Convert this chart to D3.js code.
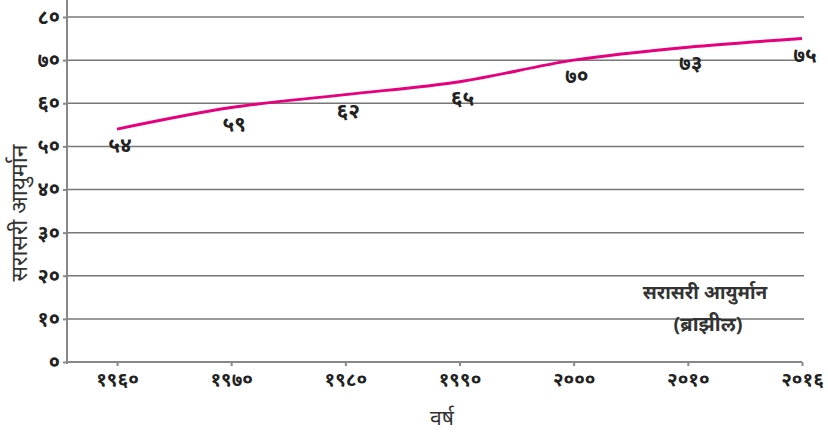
<!DOCTYPE html>
<html lang="mr">
<head>
<meta charset="utf-8">
<script src="https://cdn.jsdelivr.net/npm/d3@7"></script>
<style>
  body { margin: 0; background: #fff; }
  text { font-family: "Noto Sans", "DejaVu Sans", sans-serif; }
  .grid line { stroke: #777; stroke-width: 1.5px; }
  .axis path, .axis line { stroke: #888; stroke-width: 2px; }
  .axis text { font-size: 19px; font-weight: bold; fill: #222; }
  .line { fill: none; stroke: #e6007e; stroke-width: 3px; }
  .vlabel { font-size: 21px; font-weight: bold; fill: #222; text-anchor: middle; }
</style>
</head>
<body>
<svg id="chart" width="828" height="441"></svg>
<script>
// data
var years = ["1960", "1970", "1980", "1990", "2000", "2010", "2016"];
var lifeExp = [54, 59, 62, 65, 70, 73, 75];
var yTicks = [0, 10, 20, 30, 40, 50, 60, 70, 80];

var deva = "०१२३४५६७८९";
function toDeva(v) {
  return String(v).replace(/[0-9]/g, function(c) { return deva[+c]; });
}

var svg = d3.select("#chart");

var x = d3.scalePoint().domain(years).range([117, 802]);
var y = d3.scaleLinear().domain([0, 80]).range([362, 17]);

// gridlines
svg.append("g")
    .attr("class", "grid")
  .selectAll("line")
  .data(yTicks.slice(1))
  .enter().append("line")
    .attr("x1", 67)
    .attr("x2", 804)
    .attr("y1", function(d) { return y(d); })
    .attr("y2", function(d) { return y(d); });

// y axis
var yAxis = svg.append("g")
    .attr("class", "axis")
    .attr("transform", "translate(67,0)")
    .call(d3.axisLeft(y).tickValues(yTicks).tickSize(4).tickSizeOuter(0).tickFormat(toDeva));
yAxis.select(".domain").attr("d", "M0,0V" + (y(0) + 2));
yAxis.selectAll("text").attr("x", -7).style("font-size", "20px");

// x axis
var xAxis = svg.append("g")
    .attr("class", "axis")
    .attr("transform", "translate(0," + y(0) + ")")
    .call(d3.axisBottom(x).tickSize(4).tickSizeOuter(0).tickFormat(toDeva));
xAxis.select(".domain").attr("d", "M67,0H" + x("2016"));
xAxis.selectAll("text").attr("y", 11);

// line
var line = d3.line()
    .x(function(d, i) { return x(years[i]); })
    .y(function(d) { return y(d); })
    .curve(d3.curveCatmullRom);

svg.append("path")
    .datum(lifeExp)
    .attr("class", "line")
    .attr("d", line);

svg.selectAll(".vlabel")
  .data(lifeExp)
  .enter().append("text")
    .attr("class", "vlabel")
    .attr("x", function(d, i) { return x(years[i]) + 3; })
    .attr("y", function(d) { return y(d) + 23; })
    .text(toDeva);

// titles
svg.append("text")
    .attr("transform", "translate(27,213) rotate(-90)")
    .attr("text-anchor", "middle")
    .style("font-size", "23px")
    .style("fill", "#333")
    .text("सरासरी आयुर्मान");

svg.append("text")
    .attr("x", 442)
    .attr("y", 425)
    .attr("text-anchor", "middle")
    .style("font-size", "21px")
    .style("fill", "#333")
    .text("वर्ष");

svg.append("text")
    .attr("x", 705)
    .attr("y", 299)
    .attr("text-anchor", "middle")
    .style("font-size", "19px")
    .style("font-weight", "bold")
    .style("fill", "#333")
    .text("सरासरी आयुर्मान");

svg.append("text")
    .attr("x", 708)
    .attr("y", 331)
    .attr("text-anchor", "middle")
    .style("font-size", "20px")
    .style("font-weight", "bold")
    .style("fill", "#333")
    .text("(ब्राझील)");
</script>
</body>
</html>
